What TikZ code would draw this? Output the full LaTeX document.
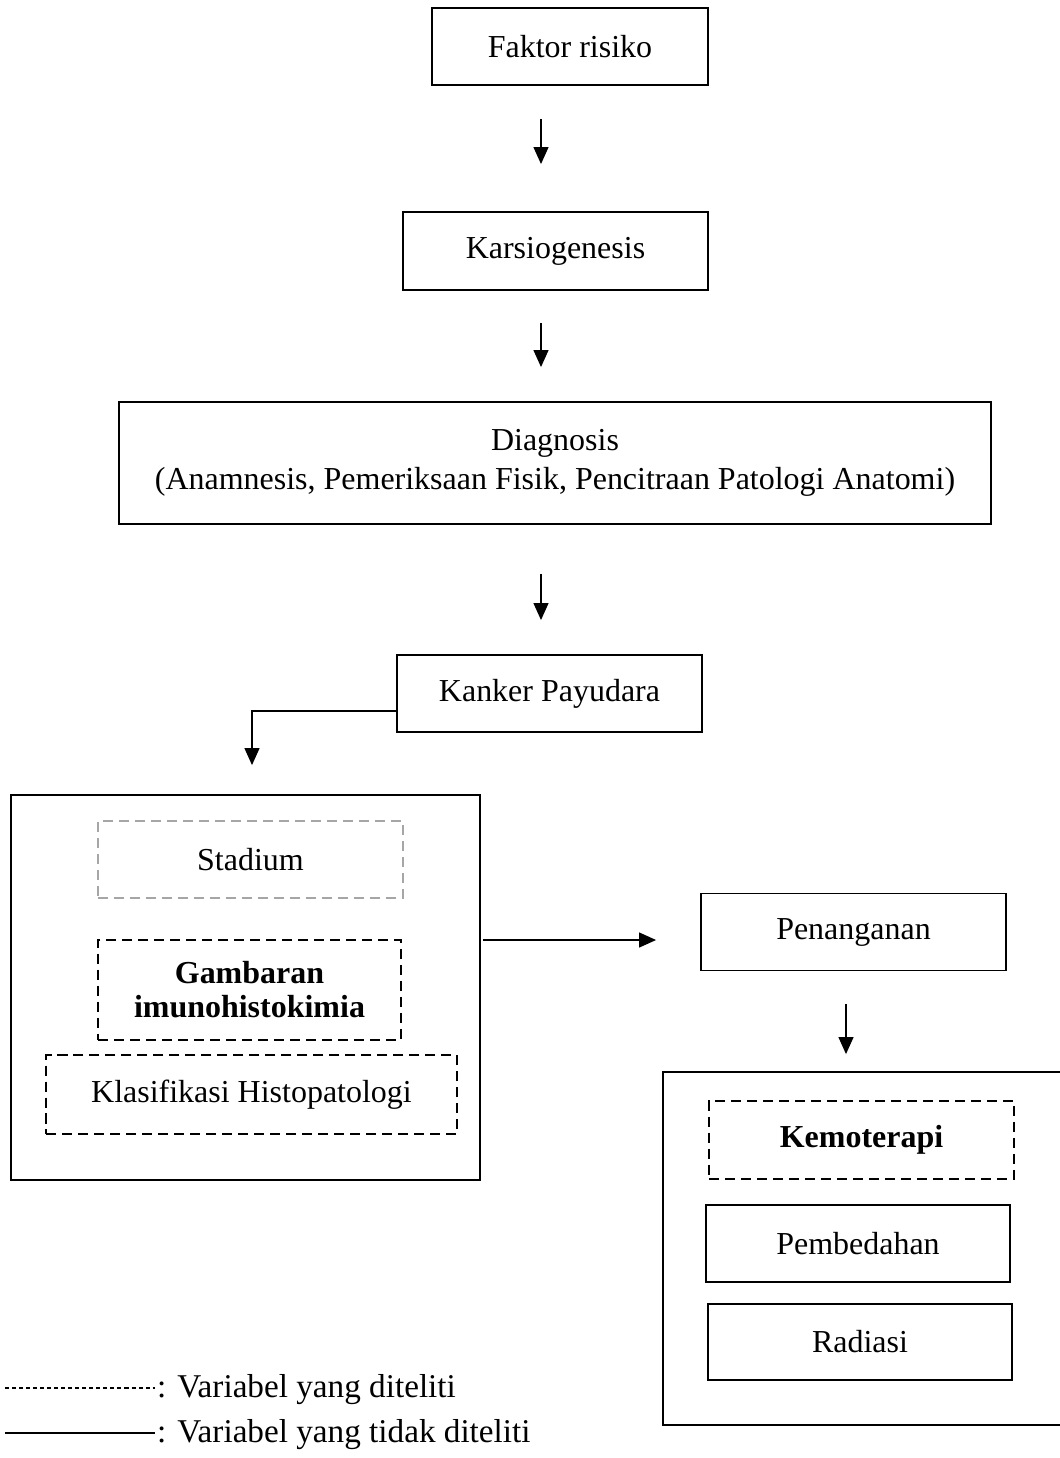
\documentclass[tikz,border=0pt]{standalone}
\usepackage{fontspec}
\setmainfont{Liberation Serif}
\usepackage{tikz}
\usetikzlibrary{shapes,arrows.meta}
\usetikzlibrary{positioning}

\newcommand{\boxfont}{\fontsize{18.2}{22}\selectfont}
\newcommand{\ketfont}{\fontsize{18.9}{22}\selectfont}

\begin{document}
\begin{tikzpicture}[x=0.02cm, y=-0.02cm, auto,
			block/.style={
					rectangle,
					draw,
					line width=1.1pt,
					minimum width=6.10cm,
					minimum height=1.54cm,
					align=center,
					inner sep=0pt,
					font=\boxfont
				},
			dblock/.style={
					block,
					dash pattern=on 5.7pt off 3.4pt
				},
			frame/.style={
					rectangle,
					draw,
					line width=1.1pt,
					inner sep=0pt
				},
			line/.style={draw, line width=0.7pt, -{Triangle[width=0.30cm,length=0.34cm]}}
		]
		\useasboundingbox (0,0) rectangle (1060,1458);
		% Place nodes
		\node [block, minimum width=5.52cm] (faktor) at (570,46.5) {Faktor risiko};
		\node [block, minimum height=1.56cm] (karsio) at (555.5,251) {Karsiogenesis};
		\node [block, minimum width=17.44cm, minimum height=2.44cm] (diagnosis) at (555,463) {Diagnosis\\(Anamnesis, Pemeriksaan Fisik, Pencitraan Patologi Anatomi)};
		\node [block] (kanker) at (549.5,693.5) {Kanker Payudara};
		% left group
		\node [frame, minimum width=9.38cm, minimum height=7.70cm] (ciri) at (245.5,987.5) {};
		\node [dblock, draw=gray!70] (stadium) at (250.5,859.5) {Stadium};
		\node [dblock, minimum width=6.06cm, minimum height=2.0cm, font=\boxfont\bfseries\fontsize{18.2}{19.4}\selectfont] (gambaran) at (249.5,990) {Gambaran\\imunohistokimia};
		\node [dblock, minimum width=8.22cm, minimum height=1.58cm] (klasifikasi) at (251.5,1094.5) {Klasifikasi Histopatologi};
		% right group
		\node [block] (penanganan) at (853.5,932) {Penanganan};
		\node [frame, minimum width=7.98cm, minimum height=7.06cm] (terapi) at (862.5,1248.5) {};
		\node [dblock, minimum height=1.56cm, font=\boxfont\bfseries] (kemoterapi) at (861.5,1140) {Kemoterapi};
		\node [block, minimum width=6.08cm] (pembedahan) at (858,1243.5) {Pembedahan};
		\node [block, minimum width=6.08cm, minimum height=1.52cm] (radiasi) at (860,1342) {Radiasi};
		% Draw edges
		\path [line] ([shift={(-29,33)}]faktor.south) -- ([shift={(-14.5,-47)}]karsio.north);
		\path [line] ([shift={(-14.5,32)}]karsio.south) -- ([shift={(-14,-34)}]diagnosis.north);
		\path [line] ([shift={(-14,49)}]diagnosis.south) -- ([shift={(-8.5,-34)}]kanker.north);
		\path [line] ([yshift=-0.35cm]kanker.west) -| ([shift={(6.5,-29)}]ciri.north);
		\path [line] ([shift={(2,-47.5)}]ciri.east) -- ([shift={(-44,8)}]penanganan.west);
		\path [line] ([shift={(-7.5,32.5)}]penanganan.south) -- ([shift={(-16.5,-17)}]terapi.north);
		% Legend
		\coordinate (ketA) at (5,1388);
		\coordinate (ketB) at (5,1433);
		\node [anchor=west, inner sep=1pt, font=\ketfont] (ket1) at (155,1390) {: Variabel yang diteliti};
		\node [anchor=west, inner sep=1pt, font=\ketfont] (ket2) at (155,1435) {: Variabel yang tidak diteliti};
		\draw [line width=0.6pt, dash pattern=on 2.3pt off 1.7pt] (ketA) -- (ket1.west |- ketA);
		\draw [line width=0.7pt] (ketB) -- (ket2.west |- ketB);
	\end{tikzpicture}
\end{document}
